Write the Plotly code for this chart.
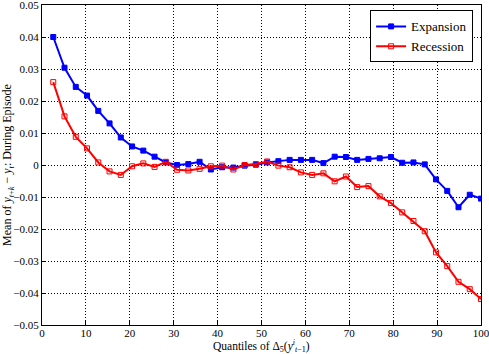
import plotly.graph_objects as go

n_points = 39
quantiles = [100 * k / n_points for k in range(1, n_points + 1)]

expansion = [0.0400, 0.0304, 0.0244, 0.0217, 0.0169, 0.0130, 0.0086, 0.0058, 0.0045, 0.0026,
             0.0008, 0.0000, 0.0003, 0.0010, -0.0014, -0.0007, -0.0008, -0.0002, 0.0001, 0.0008,
             0.0012, 0.0016, 0.0016, 0.0016, 0.0006, 0.0026, 0.0025, 0.0016, 0.0019, 0.0021,
             0.0025, 0.0007, 0.0008, 0.0002, -0.0045, -0.0081, -0.0132, -0.0093, -0.0105]

recession = [0.0259, 0.0152, 0.0088, 0.0052, 0.0008, -0.0020, -0.0031, -0.0004, 0.0005, -0.0006,
             0.0010, -0.0015, -0.0017, -0.0012, -0.0004, -0.0002, -0.0014, 0.0000, 0.0003, 0.0011,
             -0.0002, -0.0007, -0.0023, -0.0031, -0.0026, -0.0051, -0.0036, -0.0069, -0.0066, -0.0098,
             -0.0119, -0.0148, -0.0175, -0.0207, -0.0273, -0.0316, -0.0365, -0.0388, -0.0419]

x_ticks = [0, 10, 20, 30, 40, 50, 60, 70, 80, 90, 100]
y_ticks = [-0.05, -0.04, -0.03, -0.02, -0.01, 0, 0.01, 0.02, 0.03, 0.04, 0.05]
y_ticktext = ["\u22120.05", "\u22120.04", "\u22120.03", "\u22120.02", "\u22120.01", "0",
              "0.01", "0.02", "0.03", "0.04", "0.05"]

x_title = "Quantiles of \u0394<sub>5</sub>(<i>y</i><sup><i>i</i></sup><sub><i>t</i>\u22121</sub>)"
y_title = "Mean of <i>y</i><sub><i>t</i>+<i>k</i></sub> \u2212 <i>y</i><sub><i>t</i></sub>: During Episode"

serif = "Liberation Serif, DejaVu Serif, serif"

fig = go.Figure()
fig.add_trace(go.Scatter(
    x=quantiles, y=expansion, name="Expansion", mode="lines+markers",
    line=dict(color="#0000ff", width=2),
    marker=dict(symbol="square", size=5, color="#0000ff", line=dict(color="#0000ff", width=1)),
))
fig.add_trace(go.Scatter(
    x=quantiles, y=recession, name="Recession", mode="lines+markers",
    line=dict(color="#ff0000", width=2),
    marker=dict(symbol="square-open", size=5, color="#ff0000", line=dict(color="#ff0000", width=1)),
))

axis_common = dict(
    showgrid=True, gridcolor="black", gridwidth=1, griddash="1px,2px",
    showline=True, linecolor="black", linewidth=1, mirror=True,
    ticks="inside", ticklen=4, tickcolor="black",
    zeroline=False, tickfont=dict(family=serif, size=11, color="black"),
    ticklabeloverflow="allow", automargin=False,
)

eps_x = 1e-4
eps_y = 1e-8
fig.update_xaxes(
    range=[0 - eps_x, 100 + eps_x], tickvals=x_ticks, ticktext=[str(v) for v in x_ticks],
    ticklabelstandoff=-2,
    **axis_common,
)
fig.update_yaxes(
    range=[-0.05 - eps_y, 0.05 + eps_y], tickvals=y_ticks, ticktext=y_ticktext,
    title=dict(text=y_title, font=dict(family=serif, size=12, color="black"), standoff=3),
    **axis_common,
)

fig.add_annotation(
    text=x_title, xref="paper", yref="paper", x=0.5, y=0,
    xanchor="center", yanchor="top", yshift=-11, showarrow=False,
    font=dict(family=serif, size=11.5, color="black"),
)

fig.update_layout(
    width=489, height=354,
    margin=dict(l=42, r=8, t=5, b=29),
    plot_bgcolor="white", paper_bgcolor="white",
    font=dict(family=serif, size=12, color="black"),
    legend=dict(
        x=0.982, y=0.983, xanchor="right", yanchor="top",
        bgcolor="white", bordercolor="black", borderwidth=1,
        font=dict(family=serif, size=13, color="black"),
        itemwidth=30, tracegroupgap=0,
    ),
    showlegend=True,
)

fig.write_html("out.html")
